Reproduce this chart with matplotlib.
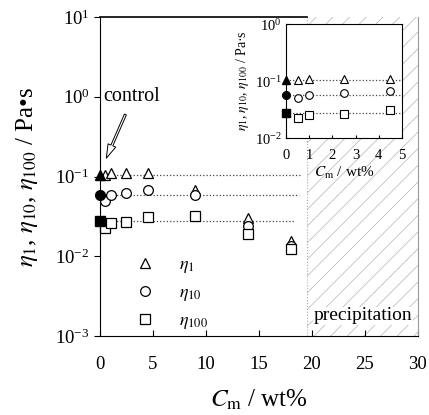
import numpy as np
import matplotlib
matplotlib.use('Agg')
from matplotlib import pyplot as plt
from matplotlib.ticker import LogLocator, LogFormatterMathtext, NullLocator

plt.rcParams['font.family'] = ['Liberation Serif', 'DejaVu Serif']
plt.rcParams['mathtext.fontset'] = 'stix'
plt.rcParams['hatch.color'] = '#b4b4b4'
plt.rcParams['hatch.linewidth'] = 0.5

# viscosity at shear rates 1, 10, 100 s^-1 vs. Cm
cm = [0.5, 1, 2.5, 4.5, 9, 14, 18]
eta1 = [0.105, 0.11, 0.11, 0.11, 0.068, 0.030, 0.0155]
eta10 = [0.050, 0.058, 0.062, 0.067, 0.059, 0.024, 0.0134]
eta100 = [0.023, 0.026, 0.027, 0.031, 0.032, 0.019, 0.0125]

# control sample (Cm = 0)
ctrl = [0.105, 0.058, 0.028]
line_end = [19.0, 18.8, 18.4]

# inset only shows the dilute range
cm_in = cm[:4]
precip_start = 20 - 0.5

fig = plt.figure(figsize=(4.29, 4.15), dpi=100)
ax = fig.add_axes([0.233, 0.190, 0.741, 0.769])

series = [(eta1, '^'), (eta10, 'o'), (eta100, 's')]
labels = [r'$\eta_1$', r'$\eta_{10}$', r'$\eta_{100}$']

ax.axvspan(precip_start, 30, facecolor='none', edgecolor='#b4b4b4', hatch='//', lw=0)
ax.axvline(precip_start, color='#aaaaaa', ls=':', lw=0.8)

for (vals, m), c0, xe, lab in zip(series, ctrl, line_end, labels):
    ax.plot([0, xe], [c0, c0], ls=':', color='#444444', lw=0.9)
    ax.plot(cm, vals, ls='none', marker=m, ms=7, mfc='white', mec='black', mew=0.9,
            label=lab, clip_on=False)
    ax.plot([0], [c0], ls='none', marker=m, ms=7, mfc='black', mec='black', clip_on=False, zorder=5)

ax.set_xlim(0, 30)
ax.set_ylim(1e-3, 10)
ax.set_yscale('log')
ax.yaxis.set_major_locator(LogLocator(base=10, numticks=10))
ax.yaxis.set_major_formatter(LogFormatterMathtext())
ax.yaxis.set_minor_locator(NullLocator())
ax.set_xticks([0, 5, 10, 15, 20, 25, 30])
ax.tick_params(axis='x', direction='in', length=4, labelsize=13.5, pad=14)
ax.tick_params(axis='y', direction='out', length=4, labelsize=13.5)

ax.spines['top'].set_visible(False)
ax.spines['right'].set_color('#999999')
ax.axhline(10, xmax=precip_start / 30, color='black', lw=1.2, clip_on=False)

ax.set_xlabel(r'$C_\mathrm{m}$ / wt%', fontsize=18, labelpad=11)
ax.set_ylabel(r'$\eta_1$, $\eta_{10}$, $\eta_{100}$ / Pa•s', fontsize=18, labelpad=11)

ax.text(0.3, 1.0, 'control', fontsize=14.5, va='center', ha='left')
ax.annotate('', xy=(0.6, 0.17), xytext=(2.4, 0.6),
            arrowprops=dict(arrowstyle='simple,head_width=0.6,head_length=1.0,tail_width=0.15',
                            fc='white', ec='black', lw=0.7, shrinkA=0, shrinkB=0))
ax.text(29.5, 1.8e-3, 'precipitation', fontsize=14, ha='right', va='center',
        bbox=dict(fc='white', ec='none', pad=0.5))

ax.legend(loc='lower left', bbox_to_anchor=(0.09, -0.008), frameon=False, fontsize=13,
          handlelength=1.0, handletextpad=1.4, labelspacing=0.5, borderaxespad=0)

# inset: 0-5 wt%
ins = fig.add_axes([0.667, 0.667, 0.270, 0.275])
for (vals, m), c0 in zip(series, ctrl):
    ins.plot([0, 5], [c0, c0], ls=':', color='#444444', lw=0.9)
    ins.plot(cm_in, vals[:4], ls='none', marker=m, ms=5.5, mfc='white', mec='black', mew=0.8,
             clip_on=False)
    ins.plot([0], [c0], ls='none', marker=m, ms=5.5, mfc='black', mec='black', clip_on=False, zorder=5)
ins.set_xlim(0, 5)
ins.set_ylim(1e-2, 1)
ins.set_yscale('log')
ins.yaxis.set_major_formatter(LogFormatterMathtext())
ins.yaxis.set_minor_locator(NullLocator())
ins.set_xticks([0, 1, 2, 3, 4, 5])
ins.tick_params(axis='both', direction='in', length=2, labelsize=10.5, pad=3)
ins.tick_params(axis='x', pad=8)
ins.set_xlabel(r'$C_\mathrm{m}$ / wt%', fontsize=11, labelpad=2)
ins.set_ylabel(r'$\eta_1$, $\eta_{10}$, $\eta_{100}$ / Pa·s', fontsize=10, labelpad=3)
for s in ins.spines.values():
    s.set_linewidth(0.8)

fig.savefig('out.png', dpi=100)
